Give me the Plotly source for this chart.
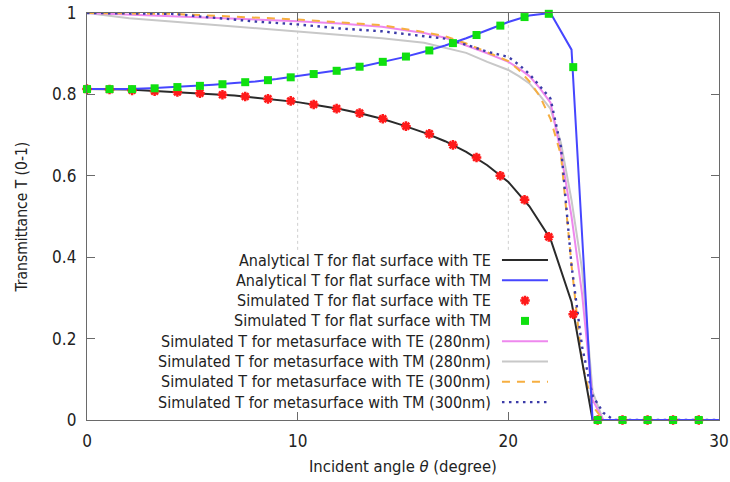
import plotly.graph_objects as go

# ---- data -------------------------------------------------------------
# analytical transmittance of a flat interface (1 degree steps)
theta_an = [0, 1, 2, 3, 4, 5, 6, 7, 8, 9, 10, 11, 12, 13, 14, 15, 16, 17, 18, 19,
            20, 21, 22, 23, 24, 25, 26, 27, 28, 29, 30]
te_an = [0.813, 0.813, 0.812, 0.809, 0.806, 0.804, 0.800, 0.797, 0.792, 0.787,
         0.781, 0.773, 0.764, 0.753, 0.740, 0.724, 0.706, 0.685, 0.659, 0.626,
         0.585, 0.525, 0.445, 0.290, 0, 0, 0, 0, 0, 0, 0]
tm_an = [0.813, 0.813, 0.813, 0.815, 0.818, 0.820, 0.824, 0.828, 0.832, 0.838,
         0.845, 0.852, 0.860, 0.868, 0.879, 0.891, 0.905, 0.920, 0.938, 0.958,
         0.978, 0.994, 1.000, 0.910, 0, 0, 0, 0, 0, 0, 0]

# simulated flat interface
theta_sim = [0, 1.07, 2.14, 3.21, 4.29, 5.36, 6.43, 7.51, 8.59, 9.67, 10.76,
             11.85, 12.94, 14.04, 15.14, 16.25, 17.37, 18.49, 19.62, 20.77,
             21.92, 23.08, 24.24, 25.42, 26.61, 27.82, 29.04]
te_sim = [0.813, 0.812, 0.810, 0.808, 0.806, 0.803, 0.799, 0.795, 0.789, 0.784,
          0.775, 0.765, 0.754, 0.740, 0.722, 0.703, 0.676, 0.645, 0.600, 0.541,
          0.450, 0.260, 0, 0, 0, 0, 0]
tm_sim = [0.813, 0.813, 0.813, 0.815, 0.818, 0.821, 0.825, 0.830, 0.835, 0.842,
          0.850, 0.858, 0.868, 0.880, 0.893, 0.908, 0.926, 0.946, 0.969, 0.990,
          0.998, 0.867, 0, 0, 0, 0, 0]

# simulated metasurfaces
theta_meta = [0, 1, 2, 4, 6, 8, 10, 12, 14, 16, 17, 18, 19, 20, 20.5, 21, 21.5,
              22, 22.5, 23, 23.5, 24, 24.5, 25, 26, 28, 30]
te_280 = [1.0, 0.998, 0.997, 0.993, 0.989, 0.985, 0.980, 0.974, 0.966, 0.951,
          0.939, 0.920, 0.901, 0.880, 0.864, 0.845, 0.815, 0.780, 0.655, 0.500,
          0.310, 0.050, 0, 0, 0, 0, 0]
tm_280 = [1.0, 0.994, 0.987, 0.979, 0.971, 0.963, 0.954, 0.946, 0.938, 0.927,
          0.915, 0.902, 0.880, 0.860, 0.845, 0.827, 0.797, 0.765, 0.680, 0.540,
          0.370, 0.070, 0, 0, 0, 0, 0]
te_300 = [1.0, 1.0, 0.999, 0.998, 0.993, 0.988, 0.984, 0.977, 0.970, 0.953,
          0.943, 0.925, 0.903, 0.882, 0.860, 0.832, 0.795, 0.740, 0.650, 0.380,
          0.140, 0.035, 0, 0, 0, 0, 0]
tm_300 = [1.0, 1.0, 0.999, 0.998, 0.988, 0.979, 0.972, 0.962, 0.955, 0.944,
          0.937, 0.922, 0.905, 0.892, 0.873, 0.850, 0.820, 0.790, 0.670, 0.380,
          0.180, 0.060, 0.018, 0, 0, 0, 0]

x_ticks = [0, 10, 20, 30]
y_ticks = [0, 0.2, 0.4, 0.6, 0.8, 1]
y_tick_text = ["0", "0.2", "0.4", "0.6", "0.8", "1"]

labels = [
    "Analytical T for flat surface with TE",
    "Analytical T for flat surface with TM",
    "Simulated T for flat surface with TE",
    "Simulated T for flat surface with TM",
    "Simulated T for metasurface with TE (280nm)",
    "Simulated T for metasurface with TM (280nm)",
    "Simulated T for metasurface with TE (300nm)",
    "Simulated T for metasurface with TM (300nm)",
]

# ---- styles -----------------------------------------------------------
FONT = "Tahoma, 'DejaVu Sans Condensed', 'DejaVu Sans', sans-serif"
TEXT = "#222222"
AXIS = "#6a6a6a"
styles = [
    dict(mode="lines", line=dict(color="#2a2a2a", width=2)),
    dict(mode="lines", line=dict(color="#4646ff", width=2)),
    dict(mode="markers", marker=dict(symbol="asterisk-open", size=8, color="#ff1a1a",
                                     line=dict(color="#ff1a1a", width=2.5))),
    dict(mode="markers", marker=dict(symbol="square", size=8, color="#10e010",
                                     line=dict(width=0))),
    dict(mode="lines", line=dict(color="#ee88ee", width=2)),
    dict(mode="lines", line=dict(color="#c8c8c8", width=2)),
    dict(mode="lines", line=dict(color="#f6ae40", width=2, dash="8px,7px")),
    dict(mode="lines", line=dict(color="#3b3ba8", width=2.4, dash="2.5px,4.5px")),
]
series = [
    (theta_meta, tm_280, 5),
    (theta_meta, te_280, 4),
    (theta_meta, te_300, 6),
    (theta_meta, tm_300, 7),
    (theta_an, te_an, 0),
    (theta_an, tm_an, 1),
    (theta_sim, te_sim, 2),
    (theta_sim, tm_sim, 3),
]

fig = go.Figure()
for xs, ys, k in series:
    fig.add_trace(go.Scatter(x=xs, y=ys, name=labels[k], showlegend=False,
                             cliponaxis=False, hoverinfo="skip", **styles[k]))

# ---- key (text right-aligned, sample to the right) --------------------
key_x0, key_x1, key_xm = 0.6566, 0.7294, 0.6930
key_text_x = 0.6424
key_top = 0.418          # top edge of the key block (axis-domain fraction)
key_rows = [0.3931, 0.3432, 0.2934, 0.2435, 0.1936, 0.1437, 0.0939, 0.0440]

for k, (lab, ky) in enumerate(zip(labels, key_rows)):
    st = styles[k]
    if st["mode"] == "lines":
        fig.add_trace(go.Scatter(x=[key_x0, key_x1], y=[ky, ky], xaxis="x2", yaxis="y2",
                                 showlegend=False, hoverinfo="skip", **st))
    else:
        fig.add_trace(go.Scatter(x=[key_xm], y=[ky], xaxis="x2", yaxis="y2",
                                 showlegend=False, hoverinfo="skip", **st))
    fig.add_annotation(x=key_text_x, y=ky, xref="x2", yref="y2", text=lab,
                       showarrow=False, xanchor="right", yanchor="middle",
                       font=dict(family=FONT, size=16, color=TEXT))

# dotted vertical grid at the inner x ticks, stopping above the key block
for xv in x_ticks[1:-1]:
    fig.add_shape(type="line", xref="x", yref="y domain", x0=xv, x1=xv,
                  y0=key_top, y1=1, layer="below",
                  line=dict(color="#cfcfcf", width=1, dash="dot"))

axis_common = dict(showline=True, linecolor=AXIS, linewidth=1.3, mirror="ticks",
                   ticks="inside", ticklen=8, tickwidth=1, tickcolor=AXIS,
                   zeroline=False, showgrid=False, automargin=False,
                   tickfont=dict(family=FONT, size=17, color=TEXT))

fig.update_layout(
    width=730, height=482, autosize=False,
    margin=dict(l=87, r=11, t=13, b=62, autoexpand=False),
    paper_bgcolor="white", plot_bgcolor="white",
    xaxis=dict(range=[0, 30], tickvals=x_ticks, ticklabelstandoff=5, **axis_common),
    yaxis=dict(range=[0, 1], tickvals=y_ticks, ticktext=y_tick_text,
               ticklabelstandoff=6, **axis_common),
    xaxis2=dict(overlaying="x", range=[0, 1], visible=False, fixedrange=True),
    yaxis2=dict(overlaying="y", range=[0, 1], visible=False, fixedrange=True),
)

fig.add_annotation(x=0.5, y=-0.115, xref="paper", yref="paper", yanchor="middle",
                   text="Incident angle <i>θ</i> (degree)", showarrow=False,
                   font=dict(family=FONT, size=16.5, color=TEXT))
fig.add_annotation(x=-0.103, y=0.5, xref="paper", yref="paper", textangle=-90,
                   text="Transmittance T (0-1)", showarrow=False,
                   xanchor="center", yanchor="middle",
                   font=dict(family=FONT, size=15.5, color=TEXT))

fig.write_html("out.html")
